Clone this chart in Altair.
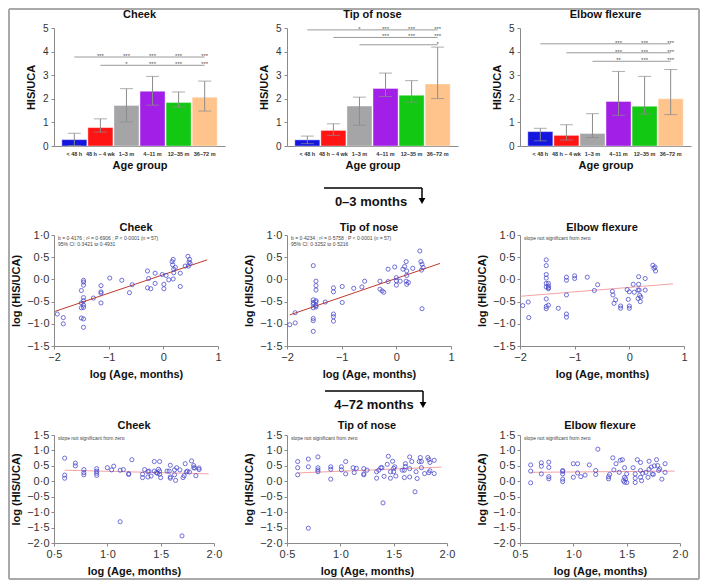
import altair as alt
import pandas as pd

FONT = "Liberation Sans"

# ---------------- bar charts (top row) ----------------
groups = ["< 48 h", "48 h \u2013 4 wk", "1\u20133 m", "4\u201311 m", "12\u201335 m", "36\u201372 m"]
bar_colors = ["#1515e0", "#ff1414", "#a5a5a8", "#a11fe6", "#12c812", "#ffc38c"]

cheek_mean = [0.27, 0.78, 1.72, 2.32, 1.84, 2.07]
cheek_lo = [0.02, 0.59, 1.02, 1.73, 1.65, 1.48]
cheek_hi = [0.54, 1.15, 2.43, 2.95, 2.29, 2.75]
cheek_br_start = [0, 1]
cheek_br_y = [3.77, 3.42]
cheek_st_level = [0, 0, 0, 0, 0, 1, 1, 1, 1]
cheek_st_group = [1, 2, 3, 4, 5, 2, 3, 4, 5]
cheek_st_text = ["***", "***", "***", "***", "***", "*", "***", "***", "***"]

nose_mean = [0.26, 0.66, 1.69, 2.44, 2.15, 2.63]
nose_lo = [0.10, 0.45, 0.88, 2.10, 1.86, 2.01]
nose_hi = [0.42, 0.94, 2.07, 3.09, 2.77, 4.19]
nose_br_start = [0, 1, 2]
nose_br_y = [4.92, 4.60, 4.29]
nose_st_level = [0, 0, 0, 0, 1, 1, 1, 2]
nose_st_group = [2, 3, 4, 5, 3, 4, 5, 5]
nose_st_text = ["*", "***", "***", "***", "***", "***", "***", "*"]

elbow_mean = [0.61, 0.45, 0.53, 1.89, 1.68, 2.00]
elbow_lo = [0.22, 0.25, 0.36, 1.30, 1.35, 1.33]
elbow_hi = [0.75, 0.90, 1.37, 3.16, 2.95, 3.24]
elbow_br_start = [0, 1, 2]
elbow_br_y = [4.33, 3.95, 3.59]
elbow_st_level = [0, 0, 0, 1, 1, 1, 2, 2, 2]
elbow_st_group = [3, 4, 5, 3, 4, 5, 3, 4, 5]
elbow_st_text = ["***", "***", "***", "***", "***", "***", "**", "***", "***"]

# ---------------- 0-3 months scatter (middle row) ----------------
cheek03_x = [-1.94, -1.83, -1.83,
             -1.50, -1.50, -1.50, -1.50,
             -1.46, -1.46, -1.46, -1.46, -1.46, -1.46, -1.46, -1.46, -1.46,
             -1.28,
             -1.14, -1.14, -1.14, -1.14,
             -0.98, -0.76, -0.62, -0.57,
             -0.29, -0.29, -0.27, -0.23, -0.15, -0.15,
             -0.02, 0.01, 0.01, 0.05, 0.10,
             0.16, 0.17, 0.18, 0.18, 0.19, 0.19, 0.22,
             0.31, 0.31,
             0.40, 0.45, 0.46, 0.47, 0.48, 0.49]
cheek03_y = [-0.78, -0.86, -1.00,
             -0.25, -0.53, -0.64, -0.87,
             -0.02, -0.06, -0.13, -0.41, -0.48, -0.58, -0.63, -0.89, -1.08,
             -0.42,
             -0.14, -0.28, -0.31, -0.53,
             0.03, -0.02, -0.30, -0.12,
             0.19, -0.19, 0.02, -0.21, 0.14, -0.09,
             0.11, -0.11, -0.21, 0.09, -0.01,
             0.40, 0.33, 0.45, 0.01, 0.23, 0.15, 0.27,
             0.14, -0.16,
             0.30, 0.52, 0.30, 0.39, 0.45, 0.36]
cheek03_line_x = [-1.98, 0.80]
cheek03_line_y = [-0.72, 0.44]
cheek03_notes = ["b = 0\u00b74176 ; r\u00b2 = 0\u00b76906 ; P < 0\u00b70001 (n = 57)",
                 "95% CI: 0\u00b73421 to 0\u00b74931"]

nose03_x = [-1.95, -1.85, -1.85,
            -1.52, -1.52, -1.52, -1.52, -1.52, -1.52, -1.52, -1.52,
            -1.47, -1.47, -1.47, -1.47, -1.47, -1.47, -1.47,
            -1.30,
            -1.15, -1.15, -1.15, -1.15, -1.15,
            -0.99, -0.99, -0.78, -0.63, -0.58,
            -0.30, -0.30, -0.26, -0.23, -0.15, -0.15,
            -0.03, 0.00, 0.00, 0.00, 0.07, 0.12, 0.15,
            0.18, 0.19, 0.19, 0.18, 0.19, 0.22,
            0.30,
            0.43, 0.45, 0.47, 0.49, 0.46, 0.47]
nose03_y = [-1.02, -0.75, -0.98,
            0.31, -0.46, -0.52, -0.56, -0.64, -0.88, -0.93, -1.17,
            -0.04, -0.14, -0.24, -0.48, -0.51, -0.59, -0.62,
            -0.51,
            -0.19, -0.28, -0.78, -0.84, -0.94,
            -0.16, -0.52, -0.20, -0.17, -0.04,
            -0.04, -0.22, -0.26, -0.29, 0.23, -0.05,
            0.28, -0.03, -0.13, 0.04, -0.04, 0.23, 0.29,
            0.40, 0.19, 0.09, -0.04, -0.11, -0.07,
            0.25,
            0.64, 0.40, 0.34, 0.27, 0.21, -0.66]
nose03_line_x = [-1.95, 0.80]
nose03_line_y = [-0.80, 0.36]
nose03_notes = ["b = 0\u00b74234 ; r\u00b2 = 0\u00b75758 ; P < 0\u00b70001 (n = 57)",
                "95% CI: 0\u00b73252 to 0\u00b75216"]

elbow03_x = [-1.95, -1.85, -1.84,
             -1.52, -1.52, -1.52, -1.52, -1.52, -1.52, -1.52, -1.52, -1.52,
             -1.48, -1.48, -1.48, -1.48, -1.48,
             -1.30,
             -1.15, -1.15, -1.15, -1.15, -1.15,
             -1.00, -1.00, -0.77, -0.64, -0.58,
             -0.31, -0.30, -0.28, -0.25, -0.16, -0.16,
             -0.04, -0.02, 0.00, 0.00, 0.00, 0.07, 0.09,
             0.16, 0.16, 0.17, 0.17, 0.18, 0.19, 0.20, 0.21,
             0.29, 0.29,
             0.43, 0.45, 0.47, 0.48]
elbow03_y = [-0.59, -0.51, -0.86,
             0.44, 0.31, 0.11, 0.03, -0.09, -0.17, -0.44, -0.61, -0.66,
             -0.09, -0.15, -0.19, -0.21, -0.58,
             -0.65,
             0.05, -0.02, -0.35, -0.78, -0.85,
             0.08, 0.02, 0.05, -0.25, -0.12,
             -0.27, -0.35, -0.54, -0.46, -0.60, -0.65,
             -0.23, -0.45, -0.28, -0.60, -0.65, -0.11, -0.29,
             -0.43, -0.24, 0.06, -0.11, -0.24, -0.36, -0.50, -0.40,
             0.02, -0.24,
             0.32, 0.25, 0.28, 0.19]
elbow03_line_x = [-1.99, 0.80]
elbow03_line_y = [-0.38, -0.10]
elbow03_notes = ["slope not significant from zero"]

# ---------------- 4-72 months scatter (bottom row) ----------------
cheek472_x = [0.60, 0.60, 0.60,
              0.70, 0.70,
              0.78, 0.78, 0.78,
              0.90, 0.90, 0.90, 0.90,
              1.00, 1.04, 1.06, 1.12, 1.12, 1.15,
              1.20, 1.20, 1.23,
              1.33, 1.33, 1.35, 1.38, 1.39, 1.38, 1.41,
              1.44, 1.44, 1.46, 1.47, 1.48, 1.49, 1.49, 1.49, 1.50,
              1.56, 1.58, 1.59, 1.59, 1.59,
              1.63, 1.63, 1.65, 1.64, 1.68, 1.70,
              1.71, 1.72, 1.73, 1.74, 1.75, 1.77,
              1.79, 1.81, 1.81, 1.82, 1.83, 1.86, 1.86]
cheek472_y = [0.75, 0.20, 0.10,
              0.59, 0.50,
              0.38, 0.28, 0.21,
              0.41, 0.33, 0.26, 0.19,
              0.44, 0.37, 0.49, 0.36, -1.31, 0.38,
              0.25, 0.22, 0.70,
              0.23, 0.12, 0.38, 0.31, 0.33, 0.14, 0.17,
              0.64, 0.33, 0.28, 0.26, 0.39, 0.33, 0.64, 0.23, 0.12,
              0.33, 0.33, 0.52, 0.14, 0.10,
              0.37, 0.21, 0.44, 0.03, 0.37, -1.77,
              0.12, 0.18, 0.57, 0.30, 0.33, 0.30,
              0.66, 0.51, 0.44, 0.43, 0.18, 0.43, 0.38]
cheek472_line_x = [0.60, 1.95]
cheek472_line_y = [0.36, 0.24]

nose472_x = [0.60, 0.60, 0.60,
             0.70, 0.70, 0.70,
             0.79, 0.79, 0.79, 0.79,
             0.91, 0.91, 0.91,
             1.01, 1.01, 1.05, 1.05,
             1.12, 1.13, 1.15,
             1.22, 1.22, 1.22, 1.25,
             1.34, 1.34, 1.36, 1.38, 1.39, 1.40, 1.41,
             1.45, 1.44, 1.47, 1.47, 1.49, 1.50, 1.51, 1.50, 1.52,
             1.58, 1.60, 1.61, 1.61, 1.60,
             1.65, 1.65, 1.65, 1.67, 1.70, 1.71, 1.72,
             1.74, 1.75, 1.76, 1.76, 1.79,
             1.82, 1.83, 1.84, 1.84, 1.83, 1.88, 1.88]
nose472_y = [0.64, 0.44, 0.21,
             0.72, 0.47, -1.52,
             0.79, 0.44, 0.37, 0.31,
             0.47, 0.39, 0.07,
             0.47, 0.37, 0.64, 0.24,
             0.44, 0.28, 0.42,
             0.41, 0.24, 0.21, 0.36,
             0.31, 0.10, 0.36, 0.44, 0.44, -0.70, 0.16,
             0.81, 0.55, 0.31, 0.10, 0.65, 0.42, 0.47, 0.31, 0.17,
             0.36, 0.36, 0.48, 0.57, 0.12,
             0.79, 0.41, 0.14, 0.64, -0.34, 0.31, 0.09,
             0.64, 0.77, 0.44, 0.64, 0.25,
             0.77, 0.70, 0.61, 0.34, 0.28, 0.68, 0.25]
nose472_line_x = [0.60, 1.95]
nose472_line_y = [0.27, 0.46]

elbow472_x = [0.60, 0.60, 0.60,
              0.70, 0.70, 0.70,
              0.77, 0.77, 0.77, 0.77,
              0.90, 0.90, 0.90, 0.90, 0.90,
              1.00, 1.00, 1.04, 1.04, 1.07, 1.11, 1.15,
              1.21, 1.21, 1.23,
              1.33, 1.33, 1.34, 1.37, 1.38, 1.40,
              1.43, 1.44, 1.46, 1.47, 1.48, 1.48, 1.49, 1.50, 1.50, 1.48,
              1.56, 1.58, 1.58, 1.58, 1.60,
              1.63, 1.63, 1.63, 1.64, 1.65, 1.68, 1.70,
              1.71, 1.71, 1.73, 1.74, 1.75, 1.76, 1.78, 1.79, 1.80, 1.81, 1.83, 1.86, 1.86]
elbow472_y = [0.53, 0.33, -0.05,
              0.60, 0.49, 0.24,
              0.62, 0.45, 0.15, 0.08,
              0.35, 0.32, 0.24, 0.07, -0.01,
              0.57, 0.13, 0.57, 0.27, 0.15, 0.20, 0.53,
              0.35, 0.22, 1.04,
              0.15, 0.08, 0.22, 0.76, 0.37, 0.57,
              0.29, 0.68, 0.70, 0.02, 0.44, 0.13, 0.08, 0.24, -0.04, -0.03,
              0.44, 0.24, 0.10, -0.04, 0.70,
              0.61, 0.35, 0.13, 0.02, 0.26, 0.29, 0.13,
              0.65, 0.39, 0.46, 0.24, 0.22, 0.50, 0.70, 0.51, 0.35, 0.40, 0.07, 0.57, 0.29]
elbow472_line_x = [0.60, 1.95]
elbow472_line_y = [0.29, 0.33]
ns_note = ["slope not significant from zero"]

mid_x_ticks = [-2, -1, 0, 1]
mid_y_ticks = [-1.5, -1.0, -0.5, 0.0, 0.5, 1.0]
bot_x_ticks = [0.5, 1.0, 1.5, 2.0]
bot_y_ticks = [-2.0, -1.5, -1.0, -0.5, 0.0, 0.5, 1.0, 1.5]

AXC = dict(domainColor="#8a8a8a", tickColor="#8a8a8a", labelColor="#333333",
           titleColor="#111111", labelFont=FONT, titleFont=FONT, grid=False)
DOT1 = "replace(format(datum.value, '.1f'), '.', '\u00b7')"
INT = "format(datum.value, 'd')"


def dummy():
    return alt.Chart(pd.DataFrame({"d": [0]}))


def title_mark(text, w, y):
    return dummy().mark_text(text=text, fontSize=11, fontWeight="bold", font=FONT,
                             color="#111111", align="center", baseline="alphabetic").encode(
        x=alt.value(w / 2), y=alt.value(y))


def bar_panel(title, mean, lo, hi, br_start, br_y, st_level, st_group, st_text, extra=()):
    W, H = 171, 118
    df = pd.DataFrame({"group": groups, "mean": mean, "lo": lo, "hi": hi})
    xscale = alt.Scale(domain=groups, paddingInner=0.04, paddingOuter=0.3)
    yscale = alt.Scale(domain=[0, 5], nice=False)
    xaxis = alt.Axis(title="Age group", labelAngle=0, labelFontSize=5.5, labelFontWeight="bold",
                     ticks=False, labelPadding=5, titlePadding=3, titleFontSize=11,
                     titleFontWeight="bold", labelOverlap=False, labelLimit=60, **AXC)
    yaxis = alt.Axis(title="HIS/UCA", values=[0, 1, 2, 3, 4, 5], labelFontSize=10,
                     titleFontSize=11, titleFontWeight="bold", tickSize=3, labelPadding=3,
                     titlePadding=6, **AXC)
    gx = alt.X("group:N", sort=groups, scale=xscale, axis=xaxis)
    bars = alt.Chart(df).mark_bar(stroke="white", strokeWidth=0.4).encode(
        x=gx,
        y=alt.Y("mean:Q", scale=yscale, axis=yaxis),
        color=alt.Color("group:N", scale=alt.Scale(domain=groups, range=bar_colors), legend=None),
    )
    err = alt.Chart(df).mark_rule(color="#8c8c8c", strokeWidth=1).encode(
        x=gx, y=alt.Y("lo:Q", scale=yscale, axis=yaxis), y2="hi:Q")
    cap_hi = alt.Chart(df).mark_tick(color="#8c8c8c", size=13, thickness=1).encode(
        x=gx, y=alt.Y("hi:Q", scale=yscale, axis=yaxis))
    cap_lo = alt.Chart(df).mark_tick(color="#8c8c8c", size=13, thickness=1).encode(
        x=gx, y=alt.Y("lo:Q", scale=yscale, axis=yaxis))
    bdf = pd.DataFrame({"start": [groups[i] for i in br_start],
                        "end": [groups[-1]] * len(br_start), "y": br_y})
    brk = alt.Chart(bdf).mark_rule(color="#9a9a9a", strokeWidth=1).encode(
        x=alt.X("start:N", sort=groups, scale=xscale, axis=xaxis), x2="end:N",
        y=alt.Y("y:Q", scale=yscale, axis=yaxis))
    sdf = pd.DataFrame({"group": [groups[i] for i in st_group],
                        "y": [br_y[l] for l in st_level], "t": st_text})
    stars = alt.Chart(sdf).mark_text(fontSize=6, color="#555555", baseline="alphabetic",
                                     dy=1, font=FONT).encode(
        x=gx, y=alt.Y("y:Q", scale=yscale, axis=yaxis), text="t:N")
    return alt.layer(bars, err, cap_hi, cap_lo, brk, stars, title_mark(title, W, -10),
                     *extra).properties(width=W, height=H)


def scatter_panel(title, xs, ys, lx, ly, lcolor, notes, xdom, ydom, xticks, yticks, xfmt,
                  w, h, ty, extra=()):
    pts = pd.DataFrame({"x": xs, "y": ys})
    xscale = alt.Scale(domain=xdom, nice=False, zero=False)
    yscale = alt.Scale(domain=ydom, nice=False, zero=False)
    xaxis = alt.Axis(title="log (Age, months)", values=xticks, labelExpr=xfmt, labelFontSize=11,
                     titleFontSize=11, titleFontWeight="bold", tickSize=3, labelPadding=2,
                     titlePadding=6, labelFlush=False, **AXC)
    yaxis = alt.Axis(title="log (HIS/UCA)", values=yticks, labelExpr=DOT1, labelFontSize=11,
                     titleFontSize=11, titleFontWeight="bold", tickSize=3, labelPadding=2,
                     titlePadding=5, labelFlush=False, **AXC)
    X = alt.X("x:Q", scale=xscale, axis=xaxis)
    Y = alt.Y("y:Q", scale=yscale, axis=yaxis)
    line = alt.Chart(pd.DataFrame({"x": lx, "y": ly})).mark_line(
        color=lcolor, strokeWidth=1).encode(x=X, y=Y)
    dots = alt.Chart(pts).mark_point(shape="circle", filled=False, color="#4646cc", size=17,
                                     strokeWidth=0.85, opacity=0.9).encode(x=X, y=Y)
    texts = []
    for i, t in enumerate(notes):
        texts.append(dummy().mark_text(text=t, fontSize=5, color="#444444", align="left",
                                       baseline="middle", font=FONT).encode(
            x=alt.value(4), y=alt.value(3 + 6 * i)))
    return alt.layer(line, dots, *texts, title_mark(title, w, ty), *extra).properties(
        width=w, height=h)


def arrow(label, x0, x1, ly, tip, ty, tx):
    hline = dummy().mark_rule(color="black", strokeWidth=1.5).encode(
        x=alt.value(x0), x2=alt.value(x1), y=alt.value(ly))
    vline = dummy().mark_rule(color="black", strokeWidth=1.5).encode(
        x=alt.value(x1), y=alt.value(ly), y2=alt.value(tip - 5))
    head = dummy().mark_point(shape="triangle-down", filled=True, color="black", size=45,
                              opacity=1).encode(x=alt.value(x1), y=alt.value(tip - 4))
    txt = dummy().mark_text(text=label, fontSize=13, fontWeight="bold", font=FONT,
                            color="#111111", align="center", baseline="middle").encode(
        x=alt.value(tx), y=alt.value(ty))
    return [hline, vline, head, txt]


def frame(L, T, R, B):
    c = "#a9a9a9"
    return [
        dummy().mark_rule(color=c, strokeWidth=2).encode(x=alt.value(L), x2=alt.value(R), y=alt.value(T)),
        dummy().mark_rule(color=c, strokeWidth=2).encode(x=alt.value(L), x2=alt.value(R), y=alt.value(B)),
        dummy().mark_rule(color=c, strokeWidth=2).encode(x=alt.value(L), y=alt.value(T), y2=alt.value(B)),
        dummy().mark_rule(color=c, strokeWidth=2).encode(x=alt.value(R), y=alt.value(T), y2=alt.value(B)),
    ]


b1 = bar_panel("Cheek", cheek_mean, cheek_lo, cheek_hi, cheek_br_start, cheek_br_y,
               cheek_st_level, cheek_st_group, cheek_st_text, extra=frame(-45, -19, 645, 551))
b2 = bar_panel("Tip of nose", nose_mean, nose_lo, nose_hi, nose_br_start, nose_br_y,
               nose_st_level, nose_st_group, nose_st_text)
b3 = bar_panel("Elbow flexure", elbow_mean, elbow_lo, elbow_hi, elbow_br_start, elbow_br_y,
               elbow_st_level, elbow_st_group, elbow_st_text)

MID = dict(xdom=[-2, 1], ydom=[-1.5, 1.0], xticks=mid_x_ticks, yticks=mid_y_ticks, xfmt=INT,
           w=164, h=111, ty=-4)
s1 = scatter_panel("Cheek", cheek03_x, cheek03_y, cheek03_line_x, cheek03_line_y, "#c0392b",
                   cheek03_notes, **MID)
s2 = scatter_panel("Tip of nose", nose03_x, nose03_y, nose03_line_x, nose03_line_y, "#c0392b",
                   nose03_notes, extra=arrow("0\u20133 months", 37, 135, -47, -30, -33, 84), **MID)
s3 = scatter_panel("Elbow flexure", elbow03_x, elbow03_y, elbow03_line_x, elbow03_line_y,
                   "#f4a3a3", elbow03_notes, **MID)

BOT = dict(xdom=[0.5, 2.0], ydom=[-2.0, 1.5], xticks=bot_x_ticks, yticks=bot_y_ticks, xfmt=DOT1,
           w=160, h=108, ty=-6)
t1 = scatter_panel("Cheek", cheek472_x, cheek472_y, cheek472_line_x, cheek472_line_y, "#f4a3a3",
                   ns_note, **BOT)
t2 = scatter_panel("Tip of nose", nose472_x, nose472_y, nose472_line_x, nose472_line_y, "#f4a3a3",
                   ns_note, extra=arrow("4\u201372 months", 38, 136, -44, -26, -30, 87), **BOT)
t3 = scatter_panel("Elbow flexure", elbow472_x, elbow472_y, elbow472_line_x, elbow472_line_y,
                   "#f4a3a3", ns_note, **BOT)

chart = (
    alt.ConcatChart(concat=[b1, b2, b3, s1, s2, s3, t1, t2, t3], columns=3,
                    spacing={"row": 89, "column": 62}, bounds="flush")
    .properties(padding=0, background="white")
    .configure_view(stroke=None)
)

chart.save("out.html", embed_options={"renderer": "svg", "actions": False})
